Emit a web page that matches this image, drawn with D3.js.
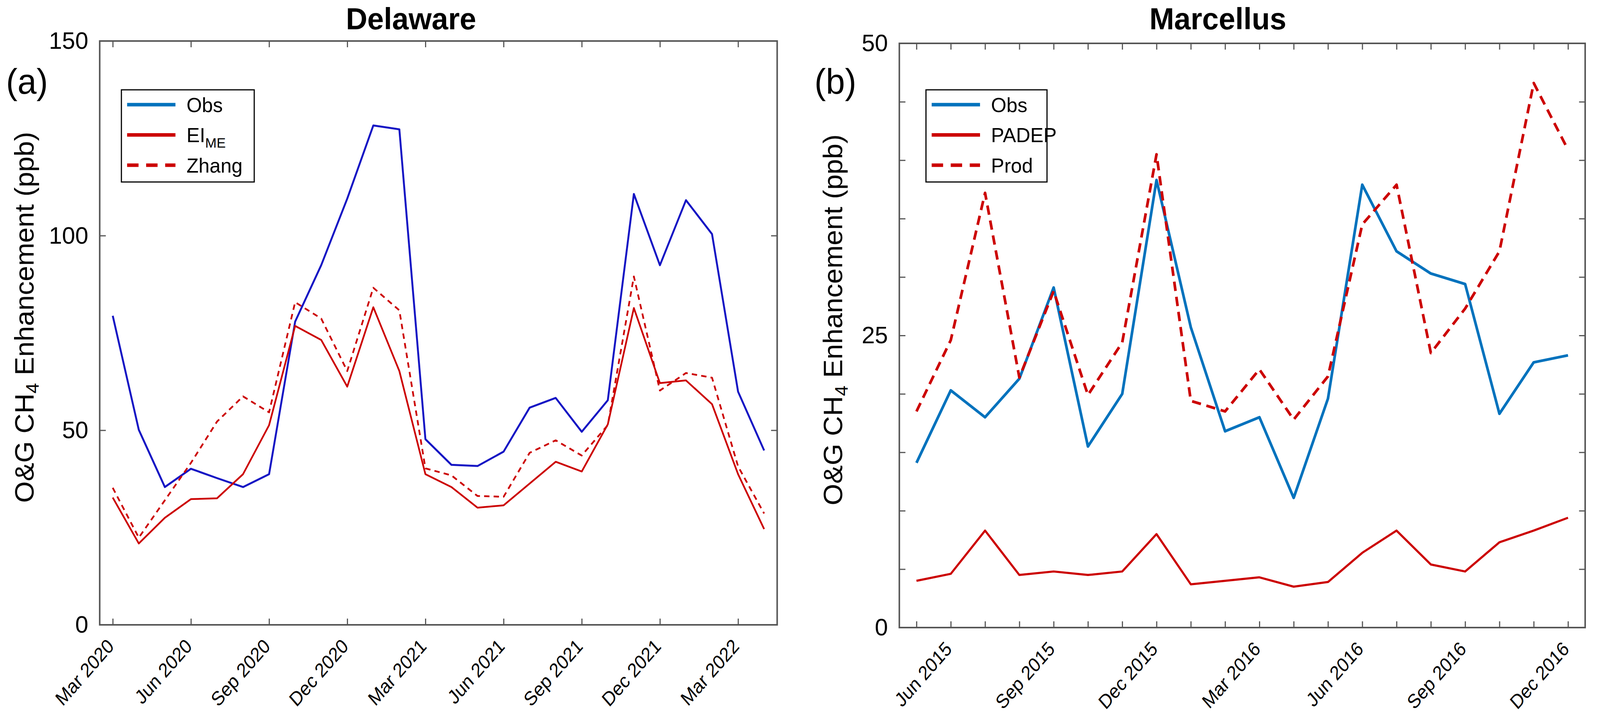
<!DOCTYPE html>
<html>
<head>
<meta charset="utf-8">
<script src="https://cdn.jsdelivr.net/npm/d3@7"></script>
<style>
  html, body { margin: 0; padding: 0; background: #fff; overflow: hidden; }
  svg { display: block; width: 100vw; height: 100vh; font-family: "Liberation Sans", Arial, sans-serif; }
</style>
</head>
<body>
<svg id="chart" viewBox="0 0 4204 1836" preserveAspectRatio="none"></svg>
<script>
// ---- data: Delaware (monthly, Mar 2020 - Apr 2022)
var delMonths = ["Mar 2020","Apr 2020","May 2020","Jun 2020","Jul 2020","Aug 2020","Sep 2020","Oct 2020",
  "Nov 2020","Dec 2020","Jan 2021","Feb 2021","Mar 2021","Apr 2021","May 2021","Jun 2021","Jul 2021",
  "Aug 2021","Sep 2021","Oct 2021","Nov 2021","Dec 2021","Jan 2022","Feb 2022","Mar 2022","Apr 2022"];
var delObs   = [79.4, 50.1, 35.4, 40.1, 37.7, 35.4, 38.7, 77.9, 92.4, 109.5, 128.3, 127.3, 47.7,
                41.1, 40.8, 44.5, 55.8, 58.3, 49.6, 57.7, 110.7, 92.4, 109.1, 100.4, 59.9, 44.8];
var delEIME  = [32.7, 20.9, 27.5, 32.3, 32.5, 38.7, 51.3, 76.8, 73.2, 61.2, 81.6, 65.2, 38.7,
                35.4, 30.1, 30.7, 36.3, 41.9, 39.4, 51.5, 81.4, 62.1, 62.8, 56.7, 38.7, 24.6];
var delZhang = [35.2, 22.4, 32.0, 41.6, 52.2, 58.7, 54.6, 82.9, 78.7, 65.2, 86.6, 80.8, 40.2,
                38.4, 33.1, 32.9, 44.2, 47.4, 43.5, 51.3, 89.5, 60.2, 64.7, 63.5, 40.7, 28.6];
var delTickLabels = ["Mar 2020","Jun 2020","Sep 2020","Dec 2020","Mar 2021","Jun 2021","Sep 2021","Dec 2021","Mar 2022"];
var delYTicks = [0, 50, 100, 150];

// ---- data: Marcellus (monthly, May 2015 - Dec 2016)
var marMonths = ["May 2015","Jun 2015","Jul 2015","Aug 2015","Sep 2015","Oct 2015","Nov 2015","Dec 2015",
  "Jan 2016","Feb 2016","Mar 2016","Apr 2016","May 2016","Jun 2016","Jul 2016","Aug 2016","Sep 2016",
  "Oct 2016","Nov 2016","Dec 2016"];
var marObs   = [14.1, 20.3, 18.0, 21.3, 29.1, 15.5, 20.0, 38.3, 25.7, 16.8, 18.0, 11.1, 19.6, 37.9, 32.2, 30.3, 29.4, 18.3, 22.7, 23.3];
var marPADEP = [4.0, 4.6, 8.3, 4.5, 4.8, 4.5, 4.8, 8.0, 3.7, 4.0, 4.3, 3.5, 3.9, 6.4, 8.3, 5.4, 4.8, 7.3, 8.3, 9.4];
var marProd  = [18.5, 24.6, 37.2, 21.4, 28.8, 19.9, 24.4, 40.5, 19.4, 18.5, 22.1, 17.8, 21.5, 34.5, 37.9, 23.5, 27.3, 32.2, 46.6, 40.9];
var marTickLabels = ["Jun 2015","Sep 2015","Dec 2015","Mar 2016","Jun 2016","Sep 2016","Dec 2016"];
var marYTicks = [0, 25, 50];
var marYMinor = [0, 5, 10, 15, 20, 25, 30, 35, 40, 45, 50];

var AXIS = "#555555";
var RED = "#cc0000";

var svg = d3.select("#chart");
svg.append("rect").attr("width", 4204).attr("height", 1836).attr("fill", "#fff");

function drawPanel(p) {
	var x = d3.scalePoint().domain(p.months).range([p.left, p.right]).padding(0.5);
	var y = d3.scaleLinear().domain(p.yDomain).range([p.bottom, p.top]);
	var g = svg.append("g");

	// series
	var line = d3.line().x(function (d, i) { return x(p.months[i]); }).y(function (d) { return y(d); });
	p.series.forEach(function (s) {
		g.append("path")
			.datum(s.values)
			.attr("d", line)
			.attr("fill", "none")
			.attr("stroke", s.color)
			.attr("stroke-width", s.width)
			.attr("stroke-dasharray", s.dash || null)
			.attr("stroke-linejoin", "round");
	});

	// axes, ticks pointing inward
	var bottom = g.append("g")
		.attr("transform", "translate(0," + p.bottom + ")")
		.call(d3.axisBottom(x).tickValues(p.tickMonths).tickSize(-16)
			.tickFormat(function (d) { return p.tickLabels.indexOf(d) >= 0 ? d : ""; }));
	g.append("g")
		.attr("transform", "translate(0," + p.top + ")")
		.call(d3.axisTop(x).tickValues(p.tickMonths).tickSize(-16).tickFormat(""));

	g.append("g")
		.attr("transform", "translate(" + p.left + ",0)")
		.call(d3.axisLeft(y).tickValues(p.yMinor).tickSize(-16).tickPadding(30)
			.tickFormat(function (d) { return p.yTicks.indexOf(d) >= 0 ? d : ""; }));
	g.append("g")
		.attr("transform", "translate(" + p.right + ",0)")
		.call(d3.axisRight(y).tickValues(p.yMinor).tickSize(-16).tickFormat(""));

	g.selectAll(".domain").remove();
	g.selectAll(".tick line").attr("stroke", AXIS).attr("stroke-width", 3);
	g.selectAll(".tick text").attr("font-size", 62).attr("fill", "#000")
		.attr("font-family", "'Liberation Sans', Arial, sans-serif");
	// slanted month labels
	bottom.selectAll("text")
		.attr("x", 0).attr("y", 0).attr("dy", "0.71em")
		.attr("font-size", 51)
		.attr("text-anchor", "end")
		.attr("transform", "translate(-18,32) scale(0.9,1) rotate(-45)");

	g.append("rect")
		.attr("x", p.left).attr("y", p.top)
		.attr("width", p.right - p.left).attr("height", p.bottom - p.top)
		.attr("fill", "none").attr("stroke", AXIS).attr("stroke-width", 4);

	// title, panel letter
	g.append("text").attr("x", p.titleX).attr("y", 75)
		.attr("text-anchor", "middle").attr("font-size", 78).attr("font-weight", "bold")
		.text(p.title);
	g.append("text").attr("x", p.letterX).attr("y", 240)
		.attr("font-size", 90).text(p.letter);

	// y label
	var yl = g.append("text")
		.attr("transform", "translate(" + p.yLabelX + "," + ((p.top + p.bottom) / 2 - 40) + ") rotate(-90)")
		.attr("text-anchor", "middle").attr("font-size", 71);
	yl.append("tspan").text("O&G CH");
	yl.append("tspan").attr("font-size", 48).attr("dy", 14).text("4");
	yl.append("tspan").attr("dy", -14).text(" Enhancement (ppb)");

	// legend
	var lg = g.append("g");
	lg.append("rect").attr("x", p.legend.x).attr("y", 230)
		.attr("width", p.legend.w).attr("height", 236)
		.attr("fill", "#fff").attr("stroke", "#000").attr("stroke-width", 3);
	p.series.forEach(function (s, i) {
		var ry = 268 + i * 77.5;
		lg.append("line")
			.attr("x1", p.legend.x + 15).attr("x2", p.legend.x + 142)
			.attr("y1", ry).attr("y2", ry)
			.attr("stroke", s.legendColor || s.color).attr("stroke-width", 9)
			.attr("stroke-dasharray", s.dash ? "30,20" : null);
		var t = lg.append("text").attr("x", p.legend.x + 171).attr("y", ry + 19)
			.attr("font-size", 52);
		t.append("tspan").text(s.name);
		if (s.sub) t.append("tspan").attr("font-size", 36).attr("dy", 14).text(s.sub);
	});
}

drawPanel({
	months: delMonths, left: 262, right: 2042, top: 105, bottom: 1600,
	yDomain: [0, 150], yTicks: delYTicks, yMinor: delYTicks,
	tickMonths: delTickLabels, tickLabels: delTickLabels,
	title: "Delaware", titleX: 1080, letter: "(a)", letterX: 16, yLabelX: 88,
	legend: { x: 319, w: 349 },
	series: [
		{ name: "Obs", values: delObs, color: "#1414c4", legendColor: "#0072BD", width: 5 },
		{ name: "EI", sub: "ME", values: delEIME, color: RED, width: 4.5 },
		{ name: "Zhang", values: delZhang, color: RED, width: 4.5, dash: "14,11" }
	]
});

drawPanel({
	months: marMonths, left: 2363, right: 4165, top: 111, bottom: 1607,
	yDomain: [0, 50], yTicks: marYTicks, yMinor: marYMinor,
	tickMonths: marMonths, tickLabels: marTickLabels,
	title: "Marcellus", titleX: 3200, letter: "(b)", letterX: 2140, yLabelX: 2213,
	legend: { x: 2433, w: 318 },
	series: [
		{ name: "Obs", values: marObs, color: "#0072BD", width: 7 },
		{ name: "PADEP", values: marPADEP, color: RED, width: 5.5 },
		{ name: "Prod", values: marProd, color: RED, width: 7, dash: "24,15" }
	]
});
</script>
</body>
</html>
